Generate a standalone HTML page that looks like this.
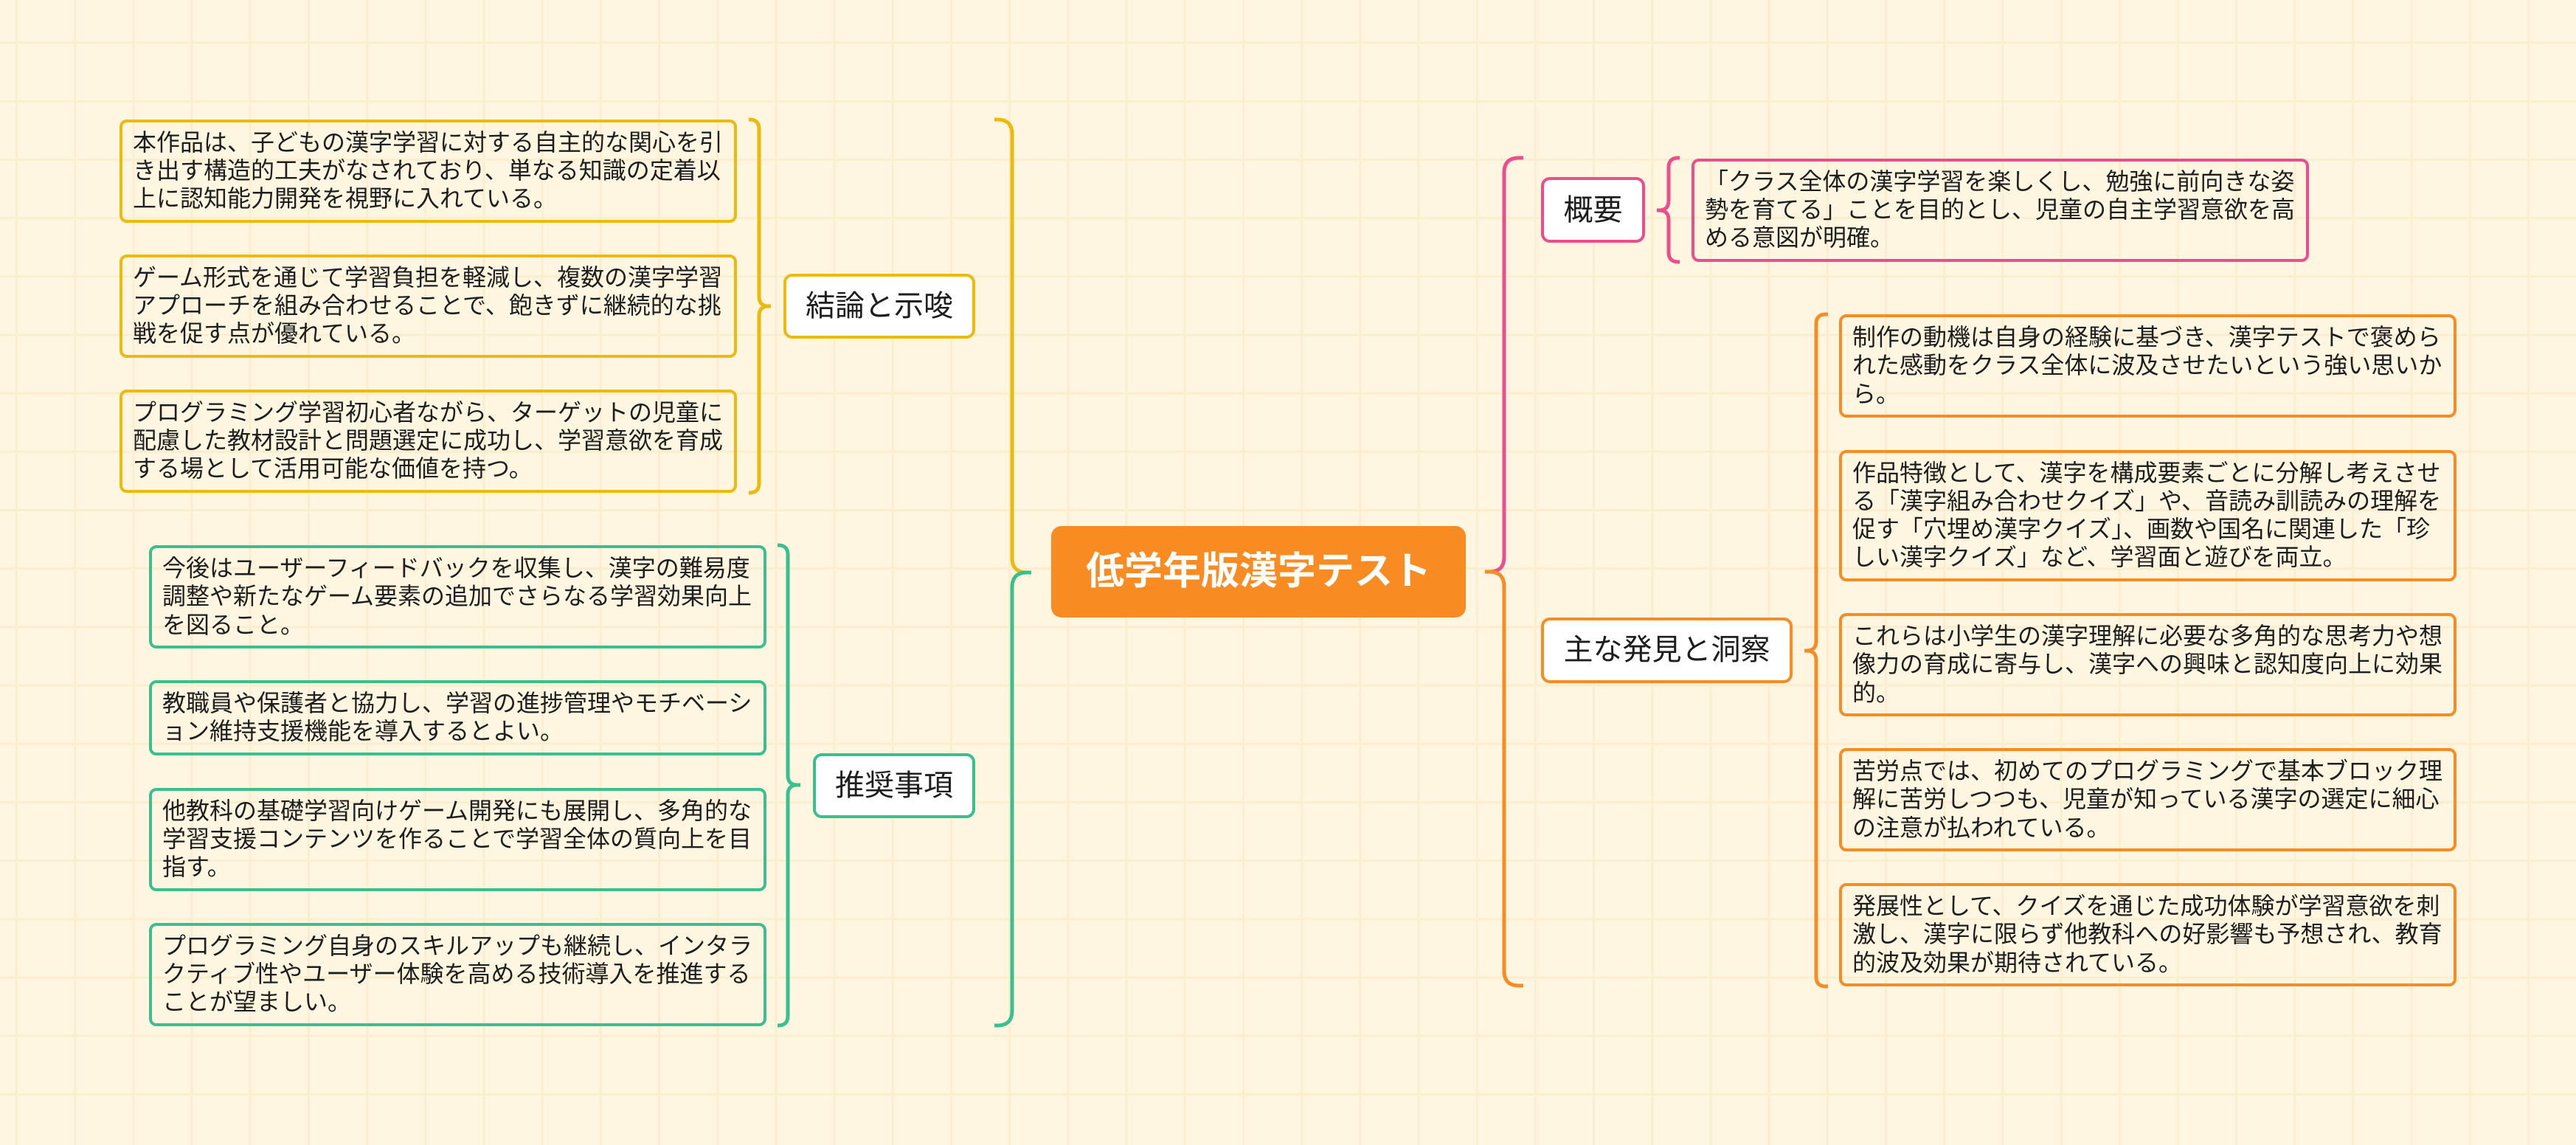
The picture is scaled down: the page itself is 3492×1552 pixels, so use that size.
<!DOCTYPE html>
<html lang="ja">
<head>
<meta charset="utf-8">
<style>
  html, body { margin: 0; padding: 0; }
  body {
    width: 3492px; height: 1552px; overflow: hidden; position: relative;
    background-color: #FEF6E0;
    background-image:
      linear-gradient(90deg, #FBEED0 0, #FBEED0 3px, transparent 3px),
      linear-gradient(180deg, #FBEED0 0, #FBEED0 3px, transparent 3px);
    background-size: 79.2px 79.2px;
    background-position: 21px 56.5px;
    font-family: "Liberation Sans", "Noto Sans CJK JP", sans-serif;
    color: #1e1e1e;
  }
  .t {
    position: absolute; box-sizing: border-box;
    border-width: 4px; border-style: solid; border-radius: 10px;
    padding: 8.1px 0 0 14px;
    font-size: 32px; white-space: nowrap;
  }
  .t div { height: 38.3px; line-height: 38.3px; }
  .n {
    position: absolute; box-sizing: border-box;
    border-width: 4px; border-style: solid; border-radius: 12px; background: #fff;
    display: flex; align-items: center; justify-content: center;
    font-size: 40px; line-height: 48px; white-space: nowrap;
  }
  .y { border-color: #EBBA0A; }
  .g { border-color: #3ABF8E; }
  .p { border-color: #EB4E8B; }
  .o { border-color: #F78C25; }
  .c {
    position: absolute; box-sizing: border-box;
    left: 1425px; top: 713px; width: 562px; height: 124px;
    background: #F88B22; border-radius: 14px;
    display: flex; align-items: center; justify-content: center;
    font-size: 52px; line-height: 62px; font-weight: bold; color: #fff;
    white-space: nowrap;
  }
  svg { position: absolute; left: 0; top: 0; }
</style>
</head>
<body>

<svg width="3492" height="1552" viewBox="0 0 3492 1552" fill="none" stroke-width="5" stroke-linecap="butt">
  <path d="M1348,162 L1352,162 Q1372,162 1372,182 L1372,756 Q1372,776 1392,776 L1398,776" stroke="#EBBA0A"/>
  <path d="M1398,776 L1392,776 Q1372,776 1372,796 L1372,1370 Q1372,1390 1352,1390 L1348,1390" stroke="#3ABF8E"/>
  <path d="M1015,162 L1016,162 Q1029,162 1029,175 L1029,402 Q1029,415 1042,415 L1045,415 M1045,415 L1042,415 Q1029,415 1029,428 L1029,655 Q1029,668 1016,668 L1015,668" stroke="#EBBA0A"/>
  <path d="M1054,739 L1055,739 Q1068,739 1068,752 L1068,1051 Q1068,1064 1081,1064 L1085,1064 M1085,1064 L1081,1064 Q1068,1064 1068,1077 L1068,1377 Q1068,1390 1055,1390 L1054,1390" stroke="#3ABF8E"/>
  <path d="M2065,214 L2059,214 Q2039,214 2039,234 L2039,755 Q2039,775 2019,775 L2013,775" stroke="#EB4E8B"/>
  <path d="M2013,775 L2019,775 Q2039,775 2039,795 L2039,1316 Q2039,1336 2059,1336 L2065,1336" stroke="#F78C25"/>
  <path d="M2277,214 L2275,214 Q2262,214 2262,227 L2262,272 Q2262,285 2249,285 L2246,285 M2246,285 L2249,285 Q2262,285 2262,298 L2262,342 Q2262,355 2275,355 L2277,355" stroke="#EB4E8B"/>
  <path d="M2478,426 L2475,426 Q2462,426 2462,439 L2462,869 Q2462,882 2449,882 L2446,882 M2446,882 L2449,882 Q2462,882 2462,895 L2462,1324 Q2462,1337 2475,1337 L2478,1337" stroke="#F78C25"/>
</svg>

<div class="c">低学年版漢字テスト</div>

<div class="n y" style="left:1062px;top:370.5px;width:260px;height:88.5px;">結論と示唆</div>
<div class="n g" style="left:1102px;top:1020.5px;width:220px;height:88.5px;">推奨事項</div>

<div class="n p" style="left:2089px;top:240px;width:141px;height:89px;">概要</div>
<div class="n o" style="left:2089px;top:837px;width:341px;height:88.5px;">主な発見と洞察</div>

<div class="t y" style="left:162px;top:161.5px;width:837px;height:140px;">
  <div>本作品は、子どもの漢字学習に対する自主的な関心を引</div>
  <div>き出す構造的工夫がなされており、単なる知識の定着以</div>
  <div>上に認知能力開発を視野に入れている。</div>
</div>
<div class="t y" style="left:162px;top:344.5px;width:837px;height:140px;">
  <div>ゲーム形式を通じて学習負担を軽減し、複数の漢字学習</div>
  <div>アプローチを組み合わせることで、飽きずに継続的な挑</div>
  <div>戦を促す点が優れている。</div>
</div>
<div class="t y" style="left:162px;top:527.5px;width:837px;height:140px;">
  <div>プログラミング学習初心者ながら、ターゲットの児童に</div>
  <div>配慮した教材設計と問題選定に成功し、学習意欲を育成</div>
  <div>する場として活用可能な価値を持つ。</div>
</div>

<div class="t g" style="left:202px;top:739px;width:837px;height:140px;">
  <div>今後はユーザーフィードバックを収集し、漢字の難易度</div>
  <div>調整や新たなゲーム要素の追加でさらなる学習効果向上</div>
  <div>を図ること。</div>
</div>
<div class="t g" style="left:202px;top:922px;width:837px;height:101.5px;">
  <div>教職員や保護者と協力し、学習の進捗管理やモチベーシ</div>
  <div>ョン維持支援機能を導入するとよい。</div>
</div>
<div class="t g" style="left:202px;top:1067.5px;width:837px;height:140px;">
  <div>他教科の基礎学習向けゲーム開発にも展開し、多角的な</div>
  <div>学習支援コンテンツを作ることで学習全体の質向上を目</div>
  <div>指す。</div>
</div>
<div class="t g" style="left:202px;top:1250.5px;width:837px;height:140px;">
  <div>プログラミング自身のスキルアップも継続し、インタラ</div>
  <div>クティブ性やユーザー体験を高める技術導入を推進する</div>
  <div>ことが望ましい。</div>
</div>

<div class="t p" style="left:2293px;top:214.5px;width:837px;height:140px;">
  <div>「クラス全体の漢字学習を楽しくし、勉強に前向きな姿</div>
  <div>勢を育てる」ことを目的とし、児童の自主学習意欲を高</div>
  <div>める意図が明確。</div>
</div>

<div class="t o" style="left:2493px;top:426px;width:837px;height:140px;">
  <div>制作の動機は自身の経験に基づき、漢字テストで褒めら</div>
  <div>れた感動をクラス全体に波及させたいという強い思いか</div>
  <div>ら。</div>
</div>
<div class="t o" style="left:2493px;top:609.5px;width:837px;height:178px;">
  <div>作品特徴として、漢字を構成要素ごとに分解し考えさせ</div>
  <div>る「漢字組み合わせクイズ」や、音読み訓読みの理解を</div>
  <div>促す「穴埋め漢字クイズ」、画数や国名に関連した「珍</div>
  <div>しい漢字クイズ」など、学習面と遊びを両立。</div>
</div>
<div class="t o" style="left:2493px;top:831px;width:837px;height:140px;">
  <div>これらは小学生の漢字理解に必要な多角的な思考力や想</div>
  <div>像力の育成に寄与し、漢字への興味と認知度向上に効果</div>
  <div>的。</div>
</div>
<div class="t o" style="left:2493px;top:1014px;width:837px;height:140px;">
  <div>苦労点では、初めてのプログラミングで基本ブロック理</div>
  <div>解に苦労しつつも、児童が知っている漢字の選定に細心</div>
  <div>の注意が払われている。</div>
</div>
<div class="t o" style="left:2493px;top:1197px;width:837px;height:140px;">
  <div>発展性として、クイズを通じた成功体験が学習意欲を刺</div>
  <div>激し、漢字に限らず他教科への好影響も予想され、教育</div>
  <div>的波及効果が期待されている。</div>
</div>

</body>
</html>
